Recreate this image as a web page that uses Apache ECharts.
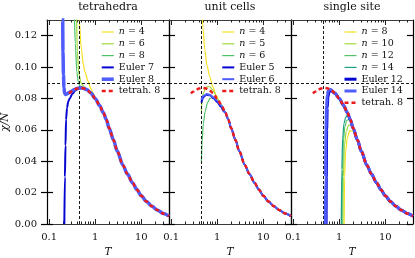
<!DOCTYPE html>
<html><head><meta charset="utf-8">
<script src="https://cdn.jsdelivr.net/npm/echarts@6/dist/echarts.min.js"></script>
<style>html,body{margin:0;padding:0;background:#fff}#c{width:415px;height:258px}</style>
</head><body><div id="c"></div>
<script>
// ---------- data ----------
const panelTitles = ['tetrahedra', 'unit cells', 'single site'];
const xMajorTicks = [0.1, 1, 10];
const xMinorTicks = [0.2,0.3,0.4,0.5,0.6,0.7,0.8,0.9,2,3,4,5,6,7,8,9,20,30];
const yTickValues = [0, 0.02, 0.04, 0.06, 0.08, 0.10, 0.12];
const xMin = 0.09, xMax = 40, yMax = 0.13;
const peakT = 0.46, peakChi = 0.0867;

// tetrah. 8 (shared high-T curve)
const mainT   = [0.27, 0.3, 0.35, 0.4, 0.47, 0.55, 0.65, 0.8, 1.0, 1.25, 1.5, 1.75, 2.0, 2.5, 3.0, 4.0, 5.0, 6.5, 8.0, 10, 13, 17, 22, 30, 40];
const mainChi = [0.0832,0.0843,0.0856,0.0863,0.0867,0.0865,0.0857,0.0836,0.0800,0.0755,0.0710,0.0665,0.0612,0.0535,0.0465,0.0375,0.0318,0.0262,0.0220,0.0180,0.0143,0.0113,0.0090,0.0067,0.0050];

// panel 1: tetrahedra
const tetN4T = [0.44,0.45,0.5,0.55,0.6,0.7,0.8,0.9,1.0,1.12];
const tetN4C = [0.15,0.13,0.112,0.102,0.097,0.091,0.0865,0.0835,0.0808,0.0785];
const tetN6T = [0.385,0.39,0.41,0.44,0.5,0.6,0.7,0.8];
const tetN6C = [0.15,0.135,0.11,0.096,0.0895,0.087,0.0858,0.0840];
const tetN8T = [0.345,0.35,0.37,0.4,0.43,0.47,0.55];
const tetN8C = [0.15,0.135,0.115,0.097,0.0905,0.0880,0.0868];
const tetE7T = [0.214,0.22,0.227,0.233,0.245,0.26,0.28,0.32,0.37,0.42];
const tetE7C = [0,0.03,0.05,0.0665,0.074,0.078,0.080,0.083,0.085,0.086];
const tetE8T = [0.194,0.197,0.2,0.205,0.21,0.217,0.225,0.24,0.27,0.3,0.35];
const tetE8C = [0.15,0.13,0.11,0.095,0.087,0.0832,0.0826,0.0828,0.0836,0.0845,0.0856];

// panel 2: unit cells
const ucN4T = [0.47,0.49,0.54,0.6,0.69,0.8,0.95,1.1];
const ucN4C = [0.14,0.125,0.111,0.101,0.094,0.0875,0.082,0.0785];
const ucN5T = [0.455,0.47,0.5,0.56,0.62,0.7,0.8,0.9];
const ucN5C = [0.072,0.079,0.0835,0.0865,0.0875,0.0874,0.0855,0.083];
const ucN6T = [0.455,0.47,0.5,0.55,0.62,0.7,0.8,0.95,1.1];
const ucN6C = [0.040,0.052,0.064,0.072,0.0775,0.080,0.0805,0.079,0.077];
const ucE5T = [0.455,0.5,0.58,0.7,0.85,1.0,1.2,1.4];
const ucE5C = [0.0775,0.0808,0.0824,0.0820,0.0800,0.0778,0.0748,0.0718];
const ucE6T = [0.455,0.5,0.6,0.7,0.85,1.0,1.2];
const ucE6C = [0.079,0.0815,0.0828,0.0822,0.0805,0.0785,0.0757];

// panel 3: single site
const ssN8T  = [1.28,1.31,1.38,1.5,1.7,2.0,2.3];
const ssN8C  = [0,0.03,0.046,0.055,0.0595,0.059,0.056];
const ssN10T = [1.2,1.23,1.3,1.42,1.6,1.85,2.2];
const ssN10C = [0,0.03,0.05,0.059,0.063,0.063,0.0585];
const ssN12T = [1.15,1.18,1.24,1.33,1.45,1.6,1.8];
const ssN12C = [0,0.035,0.054,0.062,0.066,0.0665,0.065];
const ssN14T = [1.11,1.14,1.19,1.27,1.38,1.5,1.65];
const ssN14C = [0,0.035,0.055,0.064,0.068,0.0692,0.068];
const ssE12T = [0.52,0.525,0.535,0.55,0.57,0.6,0.65,0.8];
const ssE12C = [0,0.03,0.06,0.074,0.081,0.084,0.0852,0.0834];
const ssE14T = [0.5,0.505,0.515,0.53,0.55,0.58,0.65];
const ssE14C = [0,0.03,0.06,0.075,0.082,0.085,0.0857];

// ---------- styles ----------
const C = { y:'#f6e11c', yg:'#a0d83a', g:'#4fc26a', t:'#1f9f86', db:'#0505d2', mb:'#4d5cfb', red:'#ee1b1b' };
const FONT = 'DejaVu Serif';

function pts(T, V, fromT) {
  const out = T.map((t, i) => [Math.log10(t), V[i]]);
  if (fromT != null) mainT.forEach((t, i) => { if (t >= fromT) out.push([Math.log10(t), mainChi[i]]); });
  return out;
}

const panels = [
  [ ['n = 4', pts(tetN4T, tetN4C, 1.25), C.y, 1.2],
    ['n = 6', pts(tetN6T, tetN6C, 1.0), C.yg, 1.2],
    ['n = 8', pts(tetN8T, tetN8C, 0.65), C.g, 1.2],
    ['Euler 7', pts(tetE7T, tetE7C, 0.47), C.db, 2],
    ['Euler 8', pts(tetE8T, tetE8C, 0.4), C.mb, 3.5],
    ['tetrah. 8', pts([], [], 0), C.red, 2.5, true] ],
  [ ['n = 4', pts(ucN4T, ucN4C, 1.25), C.y, 1.2],
    ['n = 5', pts(ucN5T, ucN5C, 1.0), C.yg, 1.2],
    ['n = 6', pts(ucN6T, ucN6C, 1.25), C.g, 1.2],
    ['Euler 5', pts(ucE5T, ucE5C, 1.5), C.db, 2],
    ['Euler 6', pts(ucE6T, ucE6C, 1.5), C.mb, 2],
    ['tetrah. 8', pts([], [], 0), C.red, 2.5, true] ],
  [ ['n = 8', pts(ssN8T, ssN8C, 2.5), C.y, 1.2],
    ['n = 10', pts(ssN10T, ssN10C, 2.5), C.yg, 1.2],
    ['n = 12', pts(ssN12T, ssN12C, 2.0), C.g, 1.2],
    ['n = 14', pts(ssN14T, ssN14C, 1.75), C.t, 1.2],
    ['Euler 12', pts(ssE12T, ssE12C, 1.0), C.db, 3],
    ['Euler 14', pts(ssE14T, ssE14C, 0.8), C.mb, 3],
    ['tetrah. 8', pts([], [], 0), C.red, 2.5, true] ]
];

const L = [47, 169, 291], W = 122, TOP = 20, H = 204;
const lx = Math.log10(xMin), hx = Math.log10(xMax);
const majorV = xMajorTicks.map(v => Math.log10(v));
const minorV = xMinorTicks.map(v => Math.log10(v));
const frame = { show: true, onZero: false, lineStyle: { color: '#3a3a3a', width: 1.2 } };
const noLine = { show: false, onZero: false };
const lbl = { fontFamily: FONT, fontSize: 10, color: '#111' };

const grid = [], xAxis = [], yAxis = [], series = [], legend = [];
const legendLeft = [100, 221, 343];

panels.forEach((p, g) => {
  grid.push({ left: L[g], top: TOP, width: W, height: H, containLabel: false, outerBoundsMode: 'none' });
  const base = { type: 'value', gridIndex: g, min: lx, max: hx, splitLine: { show: false } };
  xAxis.push(Object.assign({}, base, { position: 'bottom', axisLine: frame,
    axisTick: { inside: true, length: 5, customValues: majorV, lineStyle: { color: '#222', width: 1 } },
    axisLabel: Object.assign({ customValues: majorV, margin: 8, formatter: v => String(Number(Math.pow(10, v).toPrecision(1))) }, lbl),
    name: 'T', nameLocation: 'middle', nameGap: 22,
    nameTextStyle: { fontFamily: FONT, fontStyle: 'italic', fontSize: 10.5, color: '#111' } }));
  xAxis.push(Object.assign({}, base, { position: 'bottom', axisLine: noLine,
    axisTick: { inside: true, length: 2.5, customValues: minorV, lineStyle: { color: '#222', width: 1 } },
    axisLabel: { show: false } }));
  xAxis.push(Object.assign({}, base, { position: 'top', axisLine: frame,
    axisTick: { inside: true, length: 5, customValues: majorV, lineStyle: { color: '#222', width: 1 } },
    axisLabel: { show: false },
    name: panelTitles[g], nameLocation: 'middle', nameGap: 7,
    nameTextStyle: { fontFamily: FONT, fontSize: 11, color: '#111' } }));
  xAxis.push(Object.assign({}, base, { position: 'top', axisLine: noLine,
    axisTick: { inside: true, length: 2.5, customValues: minorV, lineStyle: { color: '#222', width: 1 } },
    axisLabel: { show: false } }));

  const ybase = { type: 'value', gridIndex: g, min: 0, max: yMax, splitLine: { show: false } };
  yAxis.push(Object.assign({}, ybase, { position: 'left', axisLine: { show: true, onZero: false, lineStyle: { color: '#000', width: 1.2 } },
    axisTick: { show: true, inside: false, length: 6, customValues: yTickValues, lineStyle: { color: '#000', width: 1.2 } },
    axisLabel: g === 0 ? Object.assign({ customValues: yTickValues, margin: 10, formatter: v => v.toFixed(2) }, lbl) : { show: false },
    name: g === 0 ? 'χ/N' : '', nameLocation: 'middle', nameGap: 35, nameRotate: 90,
    nameTextStyle: { fontFamily: FONT, fontStyle: 'italic', fontSize: 10.5, color: '#111' } }));
  yAxis.push(Object.assign({}, ybase, { position: 'left', axisLine: noLine,
    axisTick: { show: true, inside: true, length: 6, customValues: yTickValues, lineStyle: { color: '#000', width: 1.2 } },
    axisLabel: { show: false } }));
  yAxis.push(Object.assign({}, ybase, { position: 'right', axisLine: { show: true, onZero: false, lineStyle: { color: '#000', width: 1.2 } },
    axisTick: { show: g === 2, inside: true, length: 6, customValues: yTickValues, lineStyle: { color: '#000', width: 1.2 } },
    axisLabel: { show: false } }));

  const names = [];
  p.forEach((s, k) => {
    const nm = g + '|' + s[0];
    names.push(nm);
    const ser = {
      type: 'line', name: nm, xAxisIndex: 4 * g, yAxisIndex: 3 * g, data: s[1],
      showSymbol: false, symbol: 'none', smooth: 0.3, smoothMonotone: 'x', animation: false, silent: true,
      lineStyle: { color: s[2], width: s[3], type: s[4] ? [4, 3] : 'solid' }, itemStyle: { color: s[2] },
      z: 2 + k
    };
    if (k === 0) {
      ser.markLine = { silent: true, symbol: 'none', animation: false, label: { show: false },
        lineStyle: { color: '#000', type: [3, 2], width: 0.9 },
        data: [{ yAxis: peakChi }, { xAxis: Math.log10(peakT) }] };
    }
    series.push(ser);
  });
  legend.push({ left: legendLeft[g], top: 27, orient: 'vertical', data: names, selectedMode: false,
    itemWidth: 12, itemHeight: 8, itemGap: 1.8, padding: 0,
    itemStyle: { opacity: 0 },
    lineStyle: { width: 'inherit' },
    textStyle: { fontFamily: FONT, fontSize: 9.5, color: '#111', lineHeight: 10,
      rich: { i: { fontFamily: FONT, fontSize: 9.5, fontStyle: 'italic', color: '#111', lineHeight: 10 } } },
    formatter: name => { const t = name.split('|')[1]; return t.startsWith('n = ') ? '{i|n} = ' + t.slice(4) : t; } });
});

const chart = echarts.init(document.getElementById('c'), null, { renderer: 'canvas' });
chart.setOption({ animation: false, grid, xAxis, yAxis, series, legend });
</script></body></html>
